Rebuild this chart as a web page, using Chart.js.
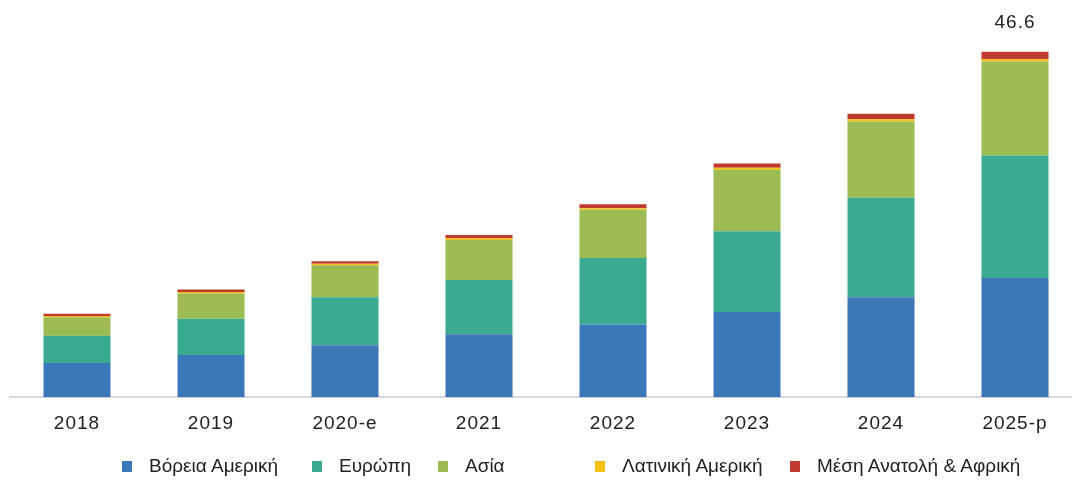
<!DOCTYPE html>
<html>
<head>
<meta charset="utf-8">
<script src="https://cdn.jsdelivr.net/npm/chart.js@4"></script>
<style>
  body { margin: 0; background: #fff; overflow: hidden; }
  #wrap { position: relative; width: 1082px; height: 482px; }
  #legend { position: absolute; left: 0; top: 455px; width: 1072px; height: 24px;
            font-family: "Liberation Sans", Arial, sans-serif; font-size: 19px; color: #222; }
  .item { position: absolute; top: 0; white-space: nowrap; }
  .box { display: inline-block; width: 10px; height: 11px; margin-right: 17px; vertical-align: 0px; }
</style>
</head>
<body>
<div id="wrap">
  <canvas id="marketchart"></canvas>
  <div id="legend"></div>
</div>
<script>
// categories (years)
const years = ['2018', '2019', '2020-e', '2021', '2022', '2023', '2024', '2025-p'];

// values per region
const northAmerica = [4.6, 5.7, 7.0, 8.5, 9.8, 11.5, 13.5, 16.1];
const europe       = [3.7, 4.9, 6.5, 7.3, 9.0, 10.9, 13.4, 16.5];
const asia         = [2.5, 3.4, 4.3, 5.4, 6.5, 8.3, 10.3, 12.7];
const latinAmerica = [0.15, 0.2, 0.2, 0.25, 0.2, 0.25, 0.3, 0.3];
const middleEastAfrica = [0.3, 0.35, 0.35, 0.45, 0.55, 0.6, 0.75, 1.0];

const seriesNames = ['Βόρεια Αμερική', 'Ευρώπη', 'Ασία', 'Λατινική Αμερική', 'Μέση Ανατολή & Αφρική'];
const totalLabel = '46.6';

const colors = ['#3b78b9', '#3aab91', '#9cbb52', '#f7c010', '#bf3b30'];
const legendX = [122, 312, 438, 595, 790];

const series = [northAmerica, europe, asia, latinAmerica, middleEastAfrica];

// label only above the last bar
const topLabel = {
  id: 'topLabel',
  beforeDraw(chart) {
    chart.ctx.letterSpacing = '1px';
  },
  afterDatasetsDraw(chart) {
    const ctx = chart.ctx;
    const meta = chart.getDatasetMeta(series.length - 1);
    const bar = meta.data[years.length - 1];
    ctx.save();
    ctx.letterSpacing = '1px';
    ctx.font = '19px "Liberation Sans", Arial, sans-serif';
    ctx.fillStyle = '#222';
    ctx.textAlign = 'center';
    ctx.textBaseline = 'bottom';
    ctx.fillText(totalLabel, bar.x, bar.y - 20);
    ctx.restore();
  }
};

const ctx = document.getElementById('marketchart').getContext('2d');
new Chart(ctx, {
  type: 'bar',
  data: {
    labels: years,
    datasets: series.map((vals, i) => ({
      label: seriesNames[i],
      data: vals,
      backgroundColor: colors[i],
      borderWidth: 0,
      categoryPercentage: 1,
      barPercentage: 0.5
    }))
  },
  options: {
    responsive: true,
    maintainAspectRatio: false,
    animation: false,
    layout: { padding: { left: 10, right: 0, top: 0, bottom: 32 } },
    plugins: {
      legend: { display: false },
      tooltip: { enabled: false }
    },
    scales: {
      x: {
        stacked: true,
        grid: { display: false, drawTicks: false },
        border: { display: true, color: '#d9d9d9', width: 2 },
        ticks: {
          autoSkip: false,
          maxRotation: 0,
          padding: 15,
          color: '#222',
          font: { family: '"Liberation Sans", Arial, sans-serif', size: 19 }
        }
      },
      y: {
        stacked: true,
        display: false,
        min: 0,
        max: 53.6
      }
    }
  },
  plugins: [topLabel]
});

// legend
const legend = document.getElementById('legend');
seriesNames.forEach((name, i) => {
  const el = document.createElement('div');
  el.className = 'item';
  el.style.left = legendX[i] + 'px';
  el.innerHTML = '<span class="box" style="background:' + colors[i] + '"></span>' + name;
  legend.appendChild(el);
});
</script>
</body>
</html>
